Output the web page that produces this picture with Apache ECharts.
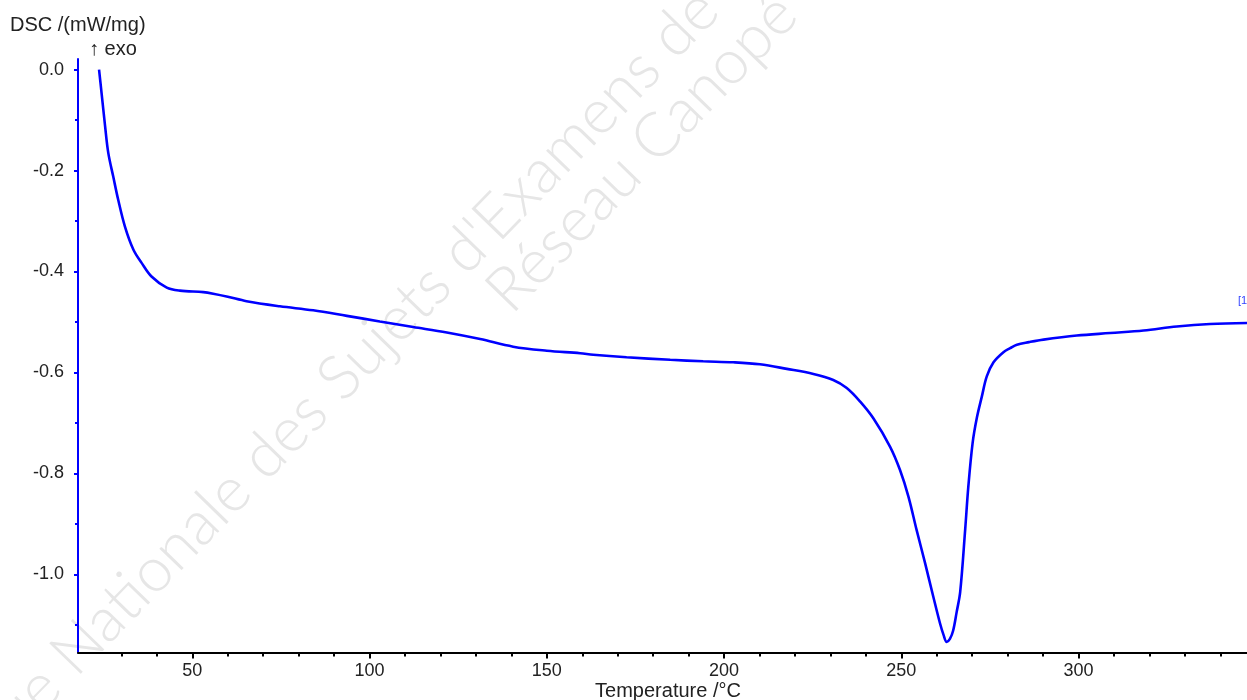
<!DOCTYPE html>
<html>
<head>
<meta charset="utf-8">
<script src="https://cdn.jsdelivr.net/npm/echarts@6/dist/echarts.min.js"></script>
<style>html,body{margin:0;padding:0;background:#fff}#c{width:1247px;height:700px}</style>
</head>
<body>
<div id="c"></div>
<script>
// Temperature (°C) and DSC (mW/mg)
const temperature = [23.7,24.4,25.4,26.3,27.7,29.1,31.0,33.4,35.7,38.5,42.8,46.5,53.1,55.9,60.0,65.3,74.7,84.1,93.6,102.9,112.3,121.8,131.2,140.5,150.0,159.4,163.1,172.5,184.8,194.1,202.6,210.1,217.7,225.2,230.8,234.6,238.4,242.1,246.8,249.6,252.0,254.3,256.7,259.0,260.9,261.9,262.8,263.7,264.6,265.6,266.6,268.0,268.9,270.1,271.3,272.7,274.1,276.0,278.8,280.7,282.6,286.0,290.1,299.5,308.9,318.3,327.7,337.1,347.5];
const dsc = [0.000,-0.046,-0.112,-0.165,-0.212,-0.258,-0.311,-0.357,-0.383,-0.410,-0.432,-0.438,-0.441,-0.444,-0.450,-0.459,-0.469,-0.477,-0.488,-0.499,-0.510,-0.521,-0.534,-0.549,-0.557,-0.562,-0.565,-0.570,-0.575,-0.578,-0.580,-0.584,-0.593,-0.603,-0.615,-0.631,-0.658,-0.691,-0.747,-0.793,-0.846,-0.912,-0.978,-1.044,-1.097,-1.120,-1.134,-1.128,-1.112,-1.075,-1.035,-0.912,-0.826,-0.740,-0.690,-0.648,-0.608,-0.580,-0.560,-0.552,-0.545,-0.540,-0.535,-0.527,-0.522,-0.517,-0.509,-0.504,-0.502];

const xMajorTicks = [50,100,150,200,250,300];
const xMinorTicks = [30,40,60,70,80,90,110,120,130,140,160,170,180,190,210,220,230,240,260,270,280,290,310,320,330,340];
const yMajorTicks = [0.0,-0.2,-0.4,-0.6,-0.8,-1.0];
const yMinorTicks = [-0.1,-0.3,-0.5,-0.7,-0.9,-1.1];

const X_MIN = 17.76, X_MAX = 347.5, Y_MIN = -1.155, Y_MAX = 0.021;

const seriesData = temperature.map((t, i) => [t, dsc[i]]);
const textColor = '#222';
const FONT = '"Liberation Sans", Arial, sans-serif';
const WM_FONT = '300 62px Lato, "Open Sans", sans-serif';

const chart = echarts.init(document.getElementById('c'), null, {renderer: 'canvas'});
chart.setOption({
  backgroundColor: '#fff',
  animation: false,
  grid: {left: 78, right: 0, top: 59, bottom: 47.5, containLabel: false, outerBoundsMode: 'none'},
  xAxis: [{
    type: 'value', min: X_MIN, max: X_MAX,
    axisLine: {show: true, onZero: false, lineStyle: {color: '#000', width: 2}},
    axisTick: {show: true, customValues: xMajorTicks, length: 6, lineStyle: {color: '#000', width: 2}},
    axisLabel: {show: true, customValues: xMajorTicks, margin: 10, color: textColor, fontSize: 18, fontFamily: FONT,
      formatter: v => String(Math.round(v))},
    splitLine: {show: false}
  }, {
    type: 'value', min: X_MIN, max: X_MAX, position: 'bottom',
    axisLine: {show: false, onZero: false},
    axisTick: {show: true, customValues: xMinorTicks, length: 4, lineStyle: {color: '#000', width: 2}},
    axisLabel: {show: false},
    splitLine: {show: false}
  }],
  yAxis: [{
    type: 'value', min: Y_MIN, max: Y_MAX,
    axisLine: {show: true, onZero: false, lineStyle: {color: '#0000ff', width: 2}},
    axisTick: {show: true, customValues: yMajorTicks, length: 4, lineStyle: {color: '#0000ff', width: 2}},
    axisLabel: {show: true, customValues: yMajorTicks, margin: 14, color: textColor, fontSize: 18, fontFamily: FONT,
      formatter: v => (Math.abs(v) < 1e-9 ? '0.0' : v.toFixed(1))},
    splitLine: {show: false}
  }, {
    type: 'value', min: Y_MIN, max: Y_MAX, position: 'left',
    axisLine: {show: false, onZero: false},
    axisTick: {show: true, customValues: yMinorTicks, length: 3, lineStyle: {color: '#0000ff', width: 2}},
    axisLabel: {show: false},
    splitLine: {show: false}
  }],
  graphic: [
    {type: 'text', silent: true, z: -10, x: 453, y: 262, rotation: 0.80,
      style: {text: "Banque Nationale des Sujets d'Examens de l'enseignement", fill: '#e6e6e6', font: WM_FONT, textAlign: 'center', textVerticalAlign: 'middle'}},
    {type: 'text', silent: true, z: -10, x: 642, y: 153, rotation: 0.80,
      style: {text: 'Réseau Canopé', fill: '#e6e6e6', font: WM_FONT, textAlign: 'center', textVerticalAlign: 'middle'}},
    {type: 'text', left: 10, top: 15, style: {text: 'DSC /(mW/mg)', fill: textColor, font: '20px ' + FONT}},
    {type: 'text', left: 89, top: 39, style: {text: '↑ exo', fill: textColor, font: '20px ' + FONT}},
    {type: 'text', x: 668, y: 691, style: {text: 'Temperature /°C', fill: textColor, font: '20px ' + FONT, textAlign: 'center', textVerticalAlign: 'middle'}},
    {type: 'text', x: 1238, y: 295, style: {text: '[1]', fill: '#3344ff', font: '11px ' + FONT}}
  ],
  series: [{
    type: 'line', xAxisIndex: 0, yAxisIndex: 0,
    data: seriesData, showSymbol: false, symbol: 'none',
    smooth: 0.35,
    lineStyle: {color: '#0000ff', width: 2.6},
    z: 5
  }]
});
</script>
</body>
</html>
